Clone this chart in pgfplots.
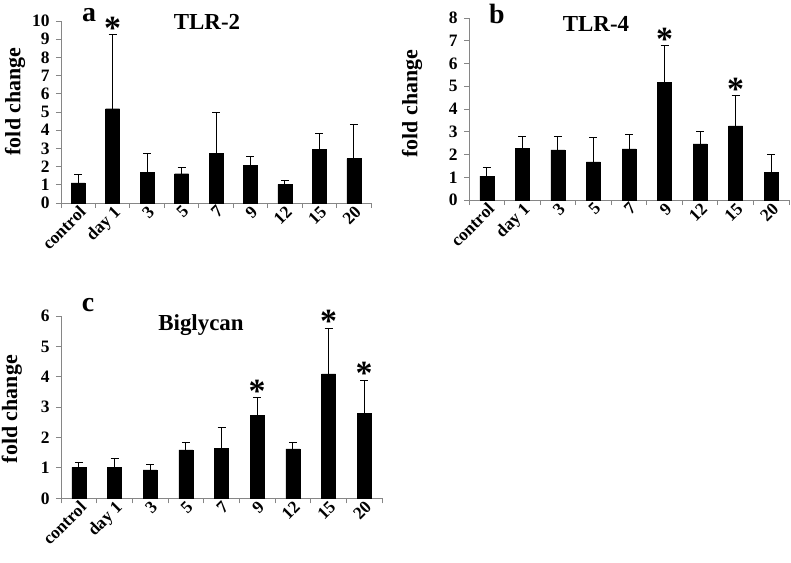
\documentclass[border=0pt]{standalone}
\usepackage{fontspec}
\setmainfont{Liberation Serif}
\usepackage{pgfplots}
\pgfplotsset{compat=1.18}
\definecolor{axgray}{HTML}{868686}

\pgfplotsset{
  panel/.style={
    scale only axis, height=182bp,
    ybar, bar width=14bp,
    ymin=0, xmin=-0.5, xmax=8.5,
    enlargelimits=false, clip=false,
    axis x line*=bottom, axis y line*=left,
    axis line style={axgray, line width=1pt},
    tick style={axgray, line width=1pt},
    tick align=outside, major tick length=5bp,
    xtick={-0.5,0.5,...,8.5}, xticklabels={},
    extra x ticks={0,...,8},
    extra x tick labels={control,day 1,3,5,7,9,12,15,20},
    extra x tick style={major tick length=0pt},
    xticklabel style={rotate=45, anchor=north east, inner sep=1bp,
      font=\fontsize{17.5}{17.5}\selectfont\bfseries},
    ytick distance=1,
    yticklabel style={font=\fontsize{17.5}{17.5}\selectfont\bfseries, xshift=-3bp},
    /pgf/number format/assume math mode=true,
    ylabel={fold change},
    ylabel style={font=\fontsize{22}{22}\selectfont\bfseries, anchor=center},
  },
  mybars/.style={fill=black, draw=black,
    error bars/.cd, y dir=plus, y explicit,
    error bar style={black, line width=1pt},
    error mark options={black, rotate=90, mark size=4bp, line width=1pt}},
}
\tikzset{star/.style={anchor=base, yshift=-4.5bp, inner sep=0pt,
    font=\fontsize{34}{34}\selectfont\bfseries}}

\begin{document}
\begin{tikzpicture}
\path[use as bounding box] (0,0) rectangle (791bp,-563bp);

% a: TLR-2
\begin{axis}[panel, width=310bp, ymax=10,
  at={(61bp,-203bp)}, anchor=south west,
  ylabel style={at={(axis description cs:-0.148,0.558)}}]
\addplot[mybars] coordinates {
  (0,1.10) +- (0,0.46)
  (1,5.18) +- (0,4.07)
  (2,1.67) +- (0,1.04)
  (3,1.61) +- (0,0.33)
  (4,2.73) +- (0,2.27)
  (5,2.07) +- (0,0.46)
  (6,1.03) +- (0,0.18)
  (7,2.93) +- (0,0.90)
  (8,2.44) +- (0,1.88)
};
\node[star] at (axis cs:1,9.25) {*};
\end{axis}

% b: TLR-4
\begin{axis}[panel, width=320bp, ymax=8,
  at={(469bp,-200bp)}, anchor=south west,
  ylabel style={at={(axis description cs:-0.178,0.53)}}]
\addplot[mybars] coordinates {
  (0,1.05) +- (0,0.37)
  (1,2.27) +- (0,0.51)
  (2,2.20) +- (0,0.58)
  (3,1.68) +- (0,1.08)
  (4,2.25) +- (0,0.63)
  (5,5.16) +- (0,1.62)
  (6,2.47) +- (0,0.56)
  (7,3.26) +- (0,1.33)
  (8,1.21) +- (0,0.81)
};
\node[star] at (axis cs:5,6.78) {*};
\node[star] at (axis cs:7,4.59) {*};
\end{axis}

% c: Biglycan
\begin{axis}[panel, width=321bp, ymax=6,
  at={(61bp,-498.3bp)}, anchor=south west,
  ylabel style={at={(axis description cs:-0.153,0.49)}}]
\addplot[mybars] coordinates {
  (0,1.02) +- (0,0.15)
  (1,1.03) +- (0,0.27)
  (2,0.94) +- (0,0.16)
  (3,1.60) +- (0,0.25)
  (4,1.64) +- (0,0.69)
  (5,2.74) +- (0,0.58)
  (6,1.63) +- (0,0.20)
  (7,4.10) +- (0,1.51)
  (8,2.81) +- (0,1.08)
};
\node[star] at (axis cs:5,3.32) {*};
\node[star] at (axis cs:7,5.61) {*};
\node[star] at (axis cs:8,3.89) {*};
\end{axis}

% panel letters and titles
\begin{scope}[every node/.style={anchor=base, inner sep=0pt}]
\node[font=\fontsize{28}{28}\selectfont\bfseries] at (89bp,-21.7bp) {a};
\node[font=\fontsize{23}{23}\selectfont\bfseries] at (207bp,-29.3bp) {TLR-2};
\node[font=\fontsize{28}{28}\selectfont\bfseries] at (497bp,-23.3bp) {b};
\node[font=\fontsize{23}{23}\selectfont\bfseries] at (596bp,-31.7bp) {TLR-4};
\node[font=\fontsize{28}{28}\selectfont\bfseries] at (88bp,-311.7bp) {c};
\node[font=\fontsize{23}{23}\selectfont\bfseries] at (201bp,-330bp) {Biglycan};
\end{scope}
\end{tikzpicture}
\end{document}
